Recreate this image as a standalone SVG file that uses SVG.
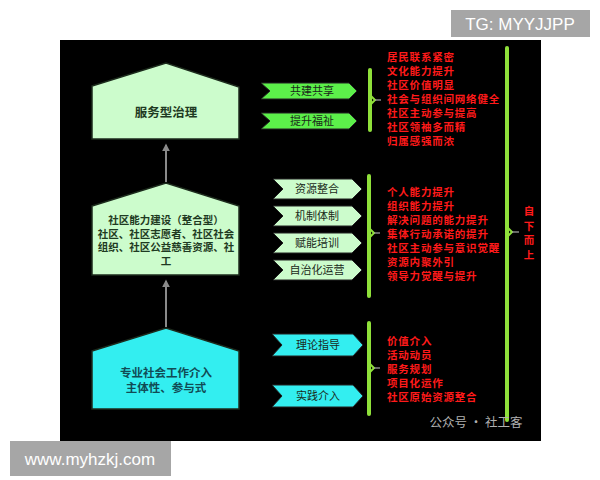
<svg xmlns="http://www.w3.org/2000/svg" width="600" height="480" viewBox="0 0 600 480">
<defs>
<style>
.cjk{font-family:"Noto Sans CJK SC","Noto Sans",sans-serif}
.house{stroke:#1c2a1c;stroke-width:1.5}
.hg{fill:#ccfccc}
.hc{fill:#33eef0}
.ht{font-size:10.5px;font-weight:bold;fill:#1e3a22;text-anchor:middle}
.bt{font-size:11px;fill:#1a2a1a;text-anchor:middle}
.bn{stroke:#222;stroke-width:1}
.red{font-size:10.5px;font-weight:bold;fill:#ff1a1a;letter-spacing:0.8px}
.br{fill:none;stroke:#8fe03a;stroke-width:4;stroke-linecap:round}
.tick{stroke:#aaa;stroke-width:1.2}
.conn{stroke:#8a8a8a;stroke-width:2;fill:none}
</style>
<marker id="ah" viewBox="0 0 10 10" refX="8" refY="5" markerWidth="4" markerHeight="4" orient="auto">
<path d="M0,0 L10,5 L0,10 z" fill="#8a8a8a"/>
</marker>
</defs>
<rect x="0" y="0" width="600" height="480" fill="#ffffff"/>
<rect x="60" y="40" width="481" height="401" fill="#000000"/>

<g id="connectors">
<line class="conn" x1="166" y1="182" x2="166" y2="145" marker-end="url(#ah)"/>
<line class="conn" x1="166" y1="327" x2="166" y2="281" marker-end="url(#ah)"/>
<path class="br" d="M370,70 V130"/>
<path class="br" d="M369,176 V296"/>
<path class="br" d="M369,323 V414"/>
<path class="br" d="M507,48 V420"/>
<path d="M371,96 L375,100 L371,104" fill="none" stroke="#8fe03a" stroke-width="2"/>
<line class="tick" x1="375" y1="100" x2="381" y2="100"/>
<path d="M370,229 L374,233 L370,237" fill="none" stroke="#8fe03a" stroke-width="2"/>
<line class="tick" x1="374" y1="233" x2="380" y2="233"/>
<path d="M370,364 L374,368 L370,372" fill="none" stroke="#8fe03a" stroke-width="2"/>
<line class="tick" x1="374" y1="368" x2="380" y2="368"/>
<path d="M508,228 L512,232 L508,236" fill="none" stroke="#8fe03a" stroke-width="2"/>
<line class="tick" x1="512" y1="232" x2="519" y2="232"/>
</g>

<g id="house-service">
<polygon class="house hg" points="92,86 166,63 239,87 239,139 92,139"/>
<text class="cjk ht" x="166" y="117" style="font-size:12.5px">服务型治理</text>
</g>

<g id="house-capacity">
<polygon class="house hg" points="92,206 166,183 239,206 239,275 92,275"/>
<text class="cjk ht" x="166" y="224">社区能力建设（整合型）</text>
<text class="cjk ht" x="166" y="237.5">社区、社区志愿者、社区社会</text>
<text class="cjk ht" x="166" y="251">组织、社区公益慈善资源、社</text>
<text class="cjk ht" x="166" y="264.5">工</text>
</g>

<g id="house-professional">
<polygon class="house hc" points="92,351 166,328 239,351 239,409 92,409"/>
<text class="cjk ht" x="166" y="377" style="fill:#114b55;font-size:11.5px">专业社会工作介入</text>
<text class="cjk ht" x="166" y="392" style="fill:#114b55;font-size:11.5px">主体性、参与式</text>
</g>

<g id="banner-gongjian">
<polygon class="bn" fill="#5cf04a" points="261,83 349,83 357,91 349,99 261,99 270,91"/>
<text class="cjk bt" x="312" y="95">共建共享</text>
</g>
<g id="banner-tisheng">
<polygon class="bn" fill="#5cf04a" points="261,113 349,113 357,121 349,129 261,129 270,121"/>
<text class="cjk bt" x="312" y="125">提升福祉</text>
</g>

<g id="banner-ziyuan">
<polygon class="bn" fill="#ccfccc" points="273,179 352,179 362,189 352,199 273,199 283,189"/>
<text class="cjk bt" x="317" y="193">资源整合</text>
</g>
<g id="banner-jizhi">
<polygon class="bn" fill="#ccfccc" points="273,206 352,206 362,216 352,226 273,226 283,216"/>
<text class="cjk bt" x="317" y="220">机制体制</text>
</g>
<g id="banner-funeng">
<polygon class="bn" fill="#ccfccc" points="273,233 352,233 362,243 352,253 273,253 283,243"/>
<text class="cjk bt" x="317" y="247">赋能培训</text>
</g>
<g id="banner-zizhi">
<polygon class="bn" fill="#ccfccc" points="273,260 352,260 362,270 352,280 273,280 283,270"/>
<text class="cjk bt" x="317" y="274">自治化运营</text>
</g>

<g id="banner-lilun">
<polygon class="bn" fill="#33eef0" points="272,334 353,334 363,345 353,356 272,356 282,345"/>
<text class="cjk bt" x="318" y="349">理论指导</text>
</g>
<g id="banner-shijian">
<polygon class="bn" fill="#33eef0" points="272,385 353,385 363,396 353,407 272,407 282,396"/>
<text class="cjk bt" x="318" y="400">实践介入</text>
</g>

<g id="list-top" class="cjk red">
<text x="387" y="61">居民联系紧密</text>
<text x="387" y="75">文化能力提升</text>
<text x="387" y="89">社区价值明显</text>
<text x="387" y="103">社会与组织间网络健全</text>
<text x="387" y="117">社区主动参与提高</text>
<text x="387" y="131">社区领袖多而精</text>
<text x="387" y="145">归属感强而浓</text>
</g>

<g id="list-middle" class="cjk red">
<text x="387" y="196">个人能力提升</text>
<text x="387" y="210">组织能力提升</text>
<text x="387" y="224">解决问题的能力提升</text>
<text x="387" y="238">集体行动承诺的提升</text>
<text x="387" y="252">社区主动参与意识觉醒</text>
<text x="387" y="266">资源内聚外引</text>
<text x="387" y="280">领导力觉醒与提升</text>
</g>

<g id="list-bottom" class="cjk red">
<text x="387" y="345">价值介入</text>
<text x="387" y="359">活动动员</text>
<text x="387" y="373">服务规划</text>
<text x="387" y="387">项目化运作</text>
<text x="387" y="401">社区原始资源整合</text>
</g>

<g id="label-bottomup" class="cjk red" style="letter-spacing:0" text-anchor="middle">
<text x="529" y="215">自</text>
<text x="529" y="229.5">下</text>
<text x="529" y="244">而</text>
<text x="529" y="258.5">上</text>
</g>

<text class="cjk" x="476" y="427" font-size="12.5" fill="#b0b0b0" text-anchor="middle">公众号 · 社工客</text>

<rect x="451" y="10" width="139" height="27" fill="#a6a6a6"/>
<text x="520" y="30" font-family="Liberation Sans, Arial, sans-serif" font-size="17" fill="#ffffff" text-anchor="middle">TG: MYYJJPP</text>
<rect x="10" y="441" width="161" height="35" fill="#a6a6a6"/>
<text x="90" y="465" font-family="Liberation Sans, Arial, sans-serif" font-size="17" fill="#ffffff" text-anchor="middle">www.myhzkj.com</text>
</svg>
